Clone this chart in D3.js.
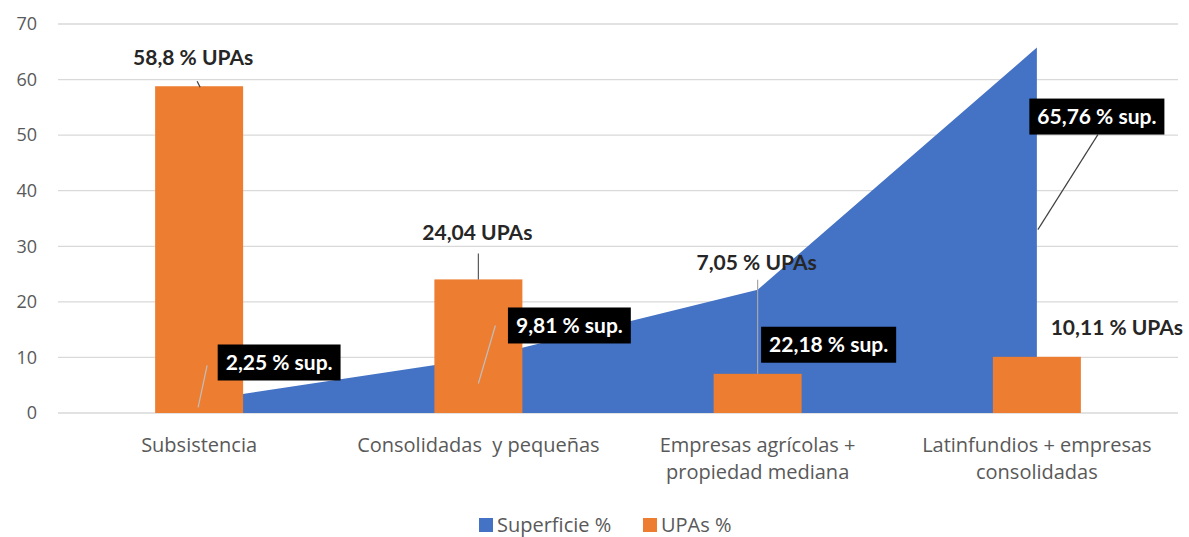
<!DOCTYPE html>
<html>
<head>
<meta charset="utf-8">
<script src="https://cdn.jsdelivr.net/npm/d3@7"></script>
<style>
  body { margin: 0; background: #fff; }
  svg { display: block; }
  text { white-space: pre; }
</style>
</head>
<body>
<script>
// datos
var categorias = ["Subsistencia", "Consolidadas  y pequeñas", "Empresas agrícolas + propiedad mediana", "Latinfundios + empresas consolidadas"];
var lineasCategoria = [["Subsistencia"], ["Consolidadas  y pequeñas"], ["Empresas agrícolas +", "propiedad mediana"], ["Latinfundios + empresas", "consolidadas"]];
var superficie = [2.25, 9.81, 22.18, 65.76];
var upas = [58.8, 24.04, 7.05, 10.11];
var etiquetasSup = ["2,25 % sup.", "9,81 % sup.", "22,18 % sup.", "65,76 % sup."];
var etiquetasUpas = ["58,8 % UPAs", "24,04 UPAs", "7,05 % UPAs", "10,11 % UPAs"];
var ticksY = [0, 10, 20, 30, 40, 50, 60, 70];
var series = ["Superficie %", "UPAs %"];

var ancho = 1189, alto = 537;
var azul = "#4472c4", naranja = "#ed7d31";

var svg = d3.select("body").append("svg").attr("width", ancho).attr("height", alto);

var x = d3.scaleBand().domain(categorias).range([59.5, 1176.5]);
var y = d3.scaleLinear().domain([0, 70]).range([413, 24]);
var cx = function(i){ return x(categorias[i]) + x.bandwidth() / 2; };

// grid
svg.append("g").selectAll("line").data(ticksY).enter().append("line")
  .attr("x1", 58).attr("x2", 1178)
  .attr("y1", function(d){ return y(d); }).attr("y2", function(d){ return y(d); })
  .attr("stroke", "#d9d9d9").attr("stroke-width", 1.3);

// eje y
var ejeY = d3.axisLeft(y).tickValues(ticksY).tickSize(0).tickPadding(0);
var gy = svg.append("g").attr("transform", "translate(37,0)").call(ejeY);
gy.select(".domain").remove();
gy.selectAll("text").attr("font-family", "Open Sans").attr("font-size", 18).attr("fill", "#595959");

// area superficie
var area = d3.area()
  .x(function(d, i){ return cx(i); })
  .y0(y(0))
  .y1(function(d){ return y(d); });
svg.append("path").datum(superficie).attr("d", area).attr("fill", azul);

// barras UPAs
var anchoBarra = 88;
svg.append("g").selectAll("rect").data(upas).enter().append("rect")
  .attr("x", function(d, i){ return cx(i) - anchoBarra / 2; })
  .attr("width", anchoBarra)
  .attr("y", function(d){ return y(d); })
  .attr("height", function(d){ return y(0) - y(d); })
  .attr("fill", naranja);

// lineas guia
var guiasUpas = [[-2, -5, 1, 1], [0, -26, 0, 0], [0, -94, 0, 0], null];
var colorGuiaUpas = ["#404040", "#595959", "#a6a6a6", null];
guiasUpas.forEach(function(g, i){
  if (!g) return;
  svg.append("line")
    .attr("x1", cx(i) + g[0]).attr("y1", y(upas[i]) + g[1])
    .attr("x2", cx(i) + g[2]).attr("y2", y(upas[i]) + g[3])
    .attr("stroke", colorGuiaUpas[i]).attr("stroke-width", 1.2);
});
var guiasSup = [[-1, 7, 8, -35], [0, 25, 17, -33], null, [61, 87, 1, 182]];
var colorGuiaSup = ["#bfbfbf", "#bfbfbf", null, "#404040"];
guiasSup.forEach(function(g, i){
  if (!g) return;
  svg.append("line")
    .attr("x1", cx(i) + g[0]).attr("y1", y(superficie[i]) + g[1])
    .attr("x2", cx(i) + g[2]).attr("y2", y(superficie[i]) + g[3])
    .attr("stroke", colorGuiaSup[i]).attr("stroke-width", 1.2);
});

// etiquetas UPAs
var posUpas = [[-6, -29], [-1, -47], [-1, -111], [80, -29]];
svg.append("g").selectAll("text").data(etiquetasUpas).enter().append("text")
  .attr("x", function(d, i){ return cx(i) + posUpas[i][0]; })
  .attr("y", function(d, i){ return y(upas[i]) + posUpas[i][1]; })
  .attr("dy", "0.35em")
  .attr("text-anchor", "middle")
  .attr("font-family", "Lato").attr("font-weight", "bold").attr("font-size", 21)
  .attr("fill", "#262626")
  .text(function(d){ return d; });

// etiquetas superficie (cajas negras)
var posSup = [[80, -38], [91, -33], [71, 55], [60, 69]];
var cajas = svg.append("g").selectAll("g").data(etiquetasSup).enter().append("g")
  .attr("transform", function(d, i){ return "translate(" + (cx(i) + posSup[i][0]) + "," + (y(superficie[i]) + posSup[i][1]) + ")"; });
cajas.append("text")
  .attr("text-anchor", "middle").attr("dy", "0.35em")
  .attr("font-family", "Lato").attr("font-weight", "bold").attr("font-size", 21)
  .attr("fill", "#fff")
  .text(function(d){ return d; });
cajas.each(function(){
  var g = d3.select(this);
  var b = g.select("text").node().getBBox();
  g.insert("rect", "text")
    .attr("x", b.x - 8).attr("width", b.width + 16)
    .attr("y", -18).attr("height", 36)
    .attr("fill", "#000");
});

// etiquetas categorias
var gx = svg.append("g").selectAll("text").data(lineasCategoria).enter().append("text")
  .attr("x", function(d, i){ return cx(i); })
  .attr("y", 452)
  .attr("text-anchor", "middle")
  .attr("font-family", "Open Sans").attr("font-size", 20).attr("fill", "#595959");
gx.selectAll("tspan").data(function(d){ return d; }).enter().append("tspan")
  .attr("x", function(){ return d3.select(this.parentNode).attr("x"); })
  .attr("dy", function(d, j){ return j === 0 ? 0 : 27; })
  .text(function(d){ return d; });

// leyenda
var leyX = [479, 643];
var ley = svg.append("g").selectAll("g").data(series).enter().append("g")
  .attr("transform", function(d, i){ return "translate(" + leyX[i] + ",525)"; });
ley.append("rect").attr("x", 0).attr("y", -7).attr("width", 14).attr("height", 14)
  .attr("fill", function(d, i){ return i === 0 ? azul : naranja; });
ley.append("text").attr("x", 18).attr("dy", "0.35em")
  .attr("font-family", "Open Sans").attr("font-size", 20).attr("fill", "#595959")
  .text(function(d){ return d; });
</script>
</body>
</html>
